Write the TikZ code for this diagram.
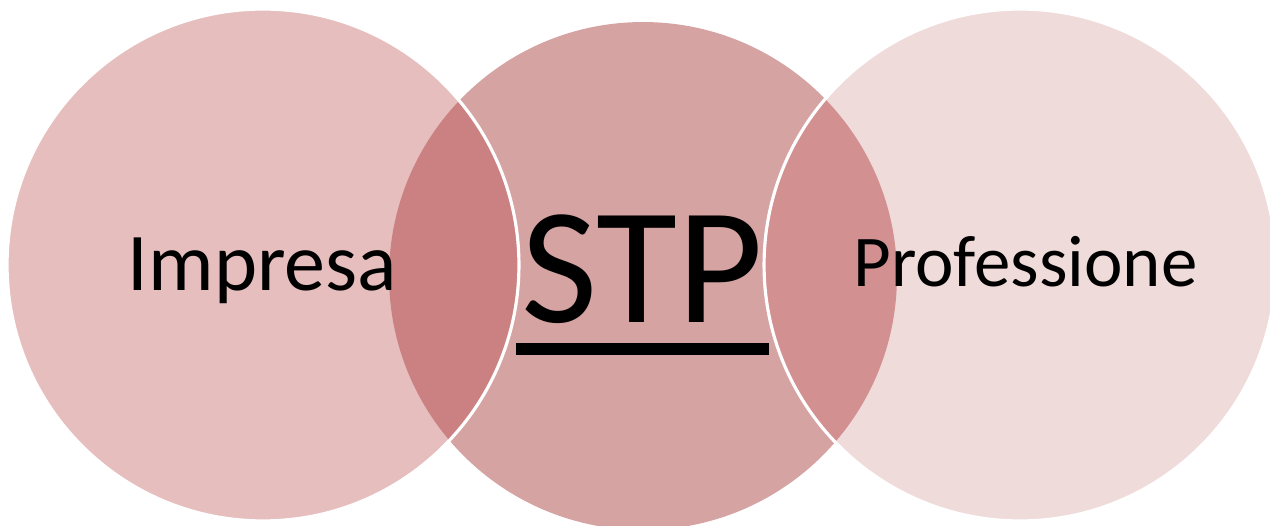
\documentclass[tikz,border=0pt]{standalone}
\usepackage{fontspec}
\setmainfont{Carlito}
\usepackage{tikz}
\definecolor{cImp}{HTML}{E6BEBE}
\definecolor{cStp}{HTML}{D6A3A3}
\definecolor{cPro}{HTML}{F0DBDB}
\definecolor{cImpStp}{HTML}{CB8181}
\definecolor{cStpPro}{HTML}{D29090}

\begin{document}
\begin{tikzpicture}[x=0.02cm, y=-0.02cm]
  \useasboundingbox (0,0) rectangle (1270,526);
  \fill[cStp] (643,276) circle (5.08cm);
  \foreach \x/\col in {263/cImp, 1020/cPro}{
    \fill[\col] (\x,265) circle (5.12cm);
  }
  \begin{scope}
    \clip (643,276) circle (5.08cm);
    \fill[cImpStp] (263,265) circle (5.12cm);
    \fill[cStpPro] (1020,265) circle (5.12cm);
  \end{scope}
  \foreach \x in {263, 1020}{
    \draw[white, line width=1.8pt] (\x,265) circle (5.12cm);
  }
  \node[font=\fontsize{46.7}{50}\selectfont, inner sep=0, anchor=base] (imp) at (262.5,291) {Impresa};
  \node[font=\fontsize{94.5}{100}\selectfont, inner sep=0, anchor=base] (stp) at (642.5,323) {STP};
  \node[font=\fontsize{41.5}{45}\selectfont, inner sep=0, anchor=base] (pro) at (1025.5,287) {Professione};
  \draw[line width=6.8pt] ([shift={(-5,26)}]stp.base west) -- ([shift={(5,26)}]stp.base east);
\end{tikzpicture}
\end{document}
